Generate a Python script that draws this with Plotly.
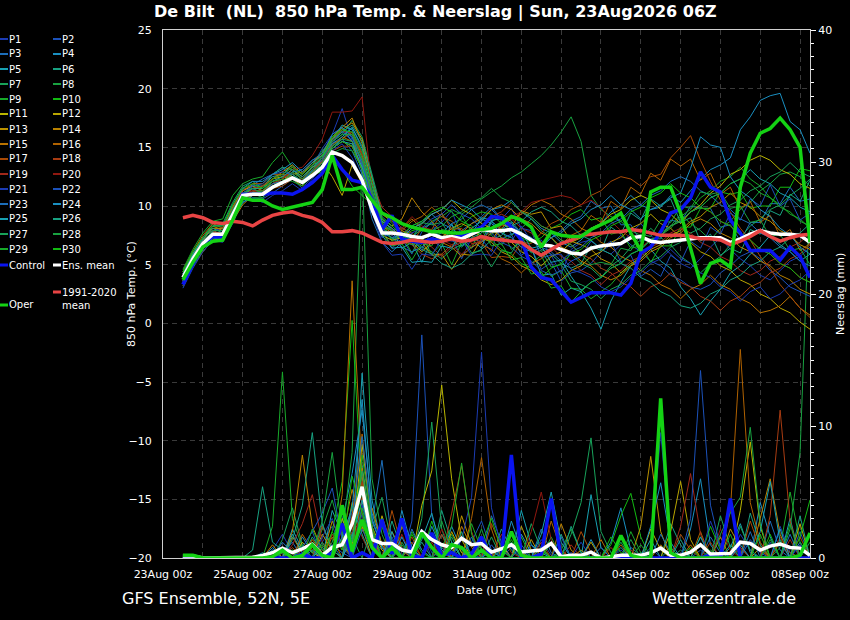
import pandas as pd
import plotly.graph_objects as go

# GFS ensemble, De Bilt: 6-hourly steps from 23Aug 12z to 08Sep 06z
times = pd.date_range("2026-08-23 12:00", periods=64, freq="6h")

member_names = ["P%d" % i for i in range(1, 31)]
base_colors = ["#1c3cb4", "#1c52ba", "#1c6eba", "#1a90c2", "#18a2b2",
               "#18a282", "#18a25a", "#18a240", "#18aa2a", "#12ba12",
               "#bab600", "#baa600", "#ba9200", "#ba8200", "#b87200",
               "#b06200", "#a84a06", "#a83c12", "#a0281a", "#901810"]
member_colors = base_colors + base_colors[:10]

# 850 hPa temperature (degC)
ens_mean = [3.9, 5.5, 6.8, 7.6, 7.6, 9.2, 10.9, 11.0,
            11.0, 11.6, 12.0, 12.4, 12.0, 12.6, 13.3, 14.6,
            14.3, 13.7, 12.2, 9.7, 7.7, 7.7, 7.6, 7.4,
            7.3, 7.6, 7.3, 7.4, 7.2, 7.6, 8.0, 7.9,
            7.9, 8.0, 7.6, 7.1, 6.7, 6.6, 6.3, 6.0,
            5.9, 6.4, 6.6, 6.7, 6.8, 7.3, 7.4, 7.0,
            6.9, 7.0, 7.1, 7.2, 7.3, 7.3, 7.3, 6.9,
            7.2, 7.6, 7.9, 7.7, 7.6, 7.6, 7.5, 6.9]
clim_mean = [9.0, 9.2, 9.0, 8.6, 8.5, 8.7, 8.6, 8.3,
             8.8, 9.2, 9.4, 9.5, 9.2, 9.0, 8.6, 7.8,
             7.8, 7.9, 7.7, 7.3, 6.9, 6.8, 6.9, 7.1,
             7.0, 6.9, 7.0, 7.2, 7.0, 7.1, 7.4, 7.2,
             7.1, 7.0, 6.9, 6.3, 5.8, 6.3, 6.8, 7.1,
             7.5, 7.6, 7.7, 7.8, 7.8, 8.0, 7.9, 7.7,
             7.5, 7.5, 7.5, 7.4, 7.2, 7.2, 7.1, 6.7,
             7.0, 7.4, 7.9, 7.4, 7.0, 7.3, 7.5, 7.6]
control = [3.3, 5.0, 6.8, 7.4, 7.3, 9.0, 11.0, 11.0,
           11.0, 11.1, 11.1, 11.0, 11.4, 12.0, 12.8, 14.3,
           13.1, 12.2, 12.0, 10.6, 8.0, 9.2, 7.2, 7.0,
           6.9, 7.2, 7.0, 7.3, 7.5, 7.8, 8.2, 9.1,
           9.0, 8.2, 7.1, 4.8, 3.9, 3.7, 2.8, 1.8,
           2.2, 2.6, 2.6, 2.6, 2.4, 3.4, 6.0, 6.5,
           7.8, 9.4, 9.7, 10.7, 12.9, 11.6, 11.2, 8.8,
           7.7, 6.2, 6.2, 6.2, 5.4, 6.5, 5.7, 3.9]
oper = [3.7, 5.2, 6.5, 7.0, 7.1, 8.8, 10.7, 10.5,
        10.5, 10.0, 9.7, 9.9, 10.1, 10.3, 11.4, 14.3,
        11.4, 11.4, 11.6, 10.5, 9.4, 9.0, 8.5, 8.2,
        8.0, 7.8, 7.8, 7.7, 7.7, 7.9, 8.0, 8.1,
        8.5, 9.1, 8.8, 8.2, 6.5, 7.8, 7.5, 7.4,
        7.4, 8.0, 8.4, 8.8, 9.4, 7.7, 6.2, 11.2,
        11.6, 11.6, 9.4, 6.3, 3.4, 5.1, 5.4, 4.8,
        11.6, 14.5, 16.2, 16.6, 17.5, 16.5, 15.0, 6.9]

# one row per perturbed member, P1 .. P30
member_t850 = [
    [3.5, 5.1, 6.5, 7.9, 8.1, 9.7, 11.5, 11.4, 11.2, 12.1, 12.5, 13.1, 12.3, 13.4, 14.9, 16.1,
     18.3, 15.7, 12.9, 9.5, 7.3, 7.9, 8.2, 7.5, 6.2, 7.9, 8.6, 9.6, 7.4, 6.4, 7.2, 6.1,
     8.9, 9.8, 8.1, 7.9, 5.6, 5.8, 4.2, 6.3, 6.9, 7.1, 6.3, 5.9, 6.7, 7.7, 8.5, 7.5,
     6.7, 5.9, 5.1, 4.7, 5.5, 6.5, 7.3, 6.3, 5.5, 4.9, 4.1, 3.7, 4.5, 5.3, 5.7, 6.5],
    [3.0, 4.7, 6.1, 7.1, 7.0, 8.5, 10.5, 10.7, 10.6, 11.1, 11.7, 12.3, 11.5, 12.5, 13.5, 15.3,
     16.4, 15.5, 13.9, 10.3, 8.1, 6.4, 7.2, 5.9, 7.8, 8.6, 6.8, 7.4, 5.5, 7.3, 6.9, 8.8,
     7.2, 7.6, 5.8, 6.4, 4.6, 5.2, 3.6, 4.3, 4.5, 5.1, 6.1, 6.7, 7.5, 6.7, 6.1, 5.3,
     4.9, 4.1, 3.7, 3.1, 2.9, 3.3, 4.3, 4.9, 5.7, 6.1, 5.5, 4.5, 3.9, 3.1, 2.7, 2.3],
    [4.2, 5.9, 7.1, 8.3, 8.4, 9.5, 11.3, 11.8, 12.3, 12.7, 13.3, 12.5, 12.1, 13.0, 14.3, 14.9,
     15.7, 14.7, 12.7, 8.9, 6.9, 6.1, 6.9, 7.3, 8.1, 8.5, 9.3, 8.3, 7.9, 8.5, 9.1, 9.9,
     8.9, 8.3, 7.7, 7.3, 6.5, 7.3, 7.9, 8.7, 9.1, 10.4, 9.8, 10.0, 8.4, 8.4, 7.0, 7.2,
     7.2, 8.8, 8.6, 10.0, 9.8, 9.8, 8.2, 8.4, 7.0, 8.6, 8.6, 10.2, 10.2, 11.6, 10.4, 10.6],
    [3.6, 5.3, 6.7, 7.5, 7.7, 9.1, 10.5, 11.3, 11.3, 11.9, 12.3, 12.9, 13.1, 13.9, 14.3, 16.1,
     16.7, 15.5, 13.1, 10.1, 7.7, 7.3, 7.5, 8.3, 8.7, 9.3, 8.5, 8.1, 7.3, 8.1, 8.7, 9.7,
     9.9, 10.5, 9.5, 8.9, 8.1, 7.7, 6.9, 6.5, 7.1, 8.1, 8.5, 9.5, 10.1, 10.9, 10.1, 9.7,
     9.9, 10.9, 10.3, 11.3, 12.3, 13.1, 13.5, 14.1, 16.5, 17.6, 19.0, 19.4, 19.6, 17.2, 16.5, 14.5],
    [4.0, 5.7, 6.9, 7.9, 7.5, 9.5, 10.9, 11.7, 11.7, 12.5, 12.7, 13.5, 12.7, 13.5, 13.9, 15.7,
     16.9, 16.5, 14.5, 11.5, 8.3, 7.9, 6.4, 6.9, 5.2, 7.1, 6.5, 8.5, 6.6, 7.2, 6.4, 8.7,
     8.0, 8.6, 6.8, 6.5, 4.1, 4.2, 2.4, 3.0, 2.7, 1.3, -0.5, 1.9, 3.5, 4.9, 5.5, 6.3,
     5.3, 4.7, 3.1, 2.1, 0.7, 1.9, 2.9, 4.3, 4.9, 5.9, 6.5, 7.5, 6.7, 6.1, 5.3, 5.9],
    [3.8, 5.5, 6.7, 7.7, 7.3, 9.1, 10.7, 11.3, 10.9, 11.5, 11.9, 12.7, 12.1, 12.9, 13.5, 15.1,
     15.7, 16.7, 15.1, 12.1, 8.9, 7.9, 7.1, 6.9, 7.1, 7.9, 7.3, 7.1, 6.5, 7.3, 7.7, 8.7,
     9.1, 8.7, 7.7, 7.1, 6.3, 5.9, 5.1, 4.7, 5.1, 6.6, 6.2, 8.2, 7.6, 9.4, 8.8, 10.6,
     10.0, 10.6, 8.6, 9.0, 7.0, 7.6, 5.8, 6.4, 6.0, 8.0, 7.6, 9.6, 9.2, 11.0, 10.4, 12.2],
    [4.4, 6.1, 7.3, 8.5, 8.5, 10.3, 11.7, 12.1, 11.5, 12.7, 13.3, 13.1, 12.3, 13.3, 13.9, 15.5,
     16.1, 17.3, 15.9, 12.7, 9.5, 8.5, 7.7, 7.3, 6.5, 6.1, 5.5, 6.3, 6.7, 7.5, 7.9, 7.5,
     6.7, 7.5, 8.1, 8.9, 7.9, 7.3, 6.3, 5.9, 5.1, 4.7, 3.9, 4.9, 5.5, 6.5, 7.1, 8.1,
     7.3, 6.7, 5.7, 5.1, 4.3, 5.1, 5.7, 6.7, 7.3, 8.3, 8.9, 9.7, 10.1, 10.9, 11.5, 12.3],
    [3.4, 5.1, 6.3, 7.3, 7.1, 8.9, 10.3, 10.7, 10.7, 11.7, 12.1, 12.7, 11.9, 12.5, 13.1, 14.5,
     14.9, 14.7, 13.3, 10.9, 8.1, 7.3, 6.7, 7.5, 7.9, 8.7, 9.1, 9.7, 9.3, 9.9, 10.6, 11.2,
     11.7, 12.4, 12.9, 13.6, 14.3, 15.2, 16.3, 17.6, 15.5, 10.9, 9.7, 9.1, 8.7, 7.9, 7.5, 6.7,
     7.7, 8.3, 9.3, 8.5, 7.9, 7.1, 8.1, 8.7, 9.7, 10.3, 11.3, 11.9, 12.7, 12.9, 12.5, 11.7],
    [4.6, 6.3, 7.7, 8.7, 8.9, 10.9, 11.9, 12.3, 12.5, 13.7, 14.6, 13.3, 12.7, 13.5, 14.7, 15.7,
     16.7, 15.9, 14.1, 10.9, 8.7, 7.0, 7.5, 6.0, 7.4, 5.9, 6.8, 5.0, 6.9, 6.4, 8.2, 7.6,
     8.1, 6.3, 7.0, 5.1, 5.8, 4.0, 4.5, 3.0, 2.9, 2.1, 2.7, 3.3, 4.3, 4.9, 5.9, 6.5,
     7.5, 8.1, 9.1, 9.7, 10.7, 11.3, 12.1, 12.5, 13.3, 12.3, 11.7, 10.7, 10.1, 9.3, 8.9, 8.1],
    [3.6, 5.3, 6.5, 7.5, 7.1, 8.9, 10.5, 11.1, 11.1, 11.7, 12.1, 12.9, 12.3, 12.7, 12.9, 14.1,
     13.1, 11.7, 10.9, 10.1, 8.3, 7.9, 7.3, 7.9, 8.1, 7.7, 7.1, 7.9, 8.3, 9.1, 9.5, 9.3,
     8.5, 8.1, 7.3, 6.9, 7.3, 8.1, 8.5, 9.3, 9.7, 8.8, 9.0, 7.6, 7.8, 6.4, 6.6, 5.2,
     6.6, 6.6, 8.2, 8.2, 9.8, 9.8, 11.2, 11.0, 11.2, 9.8, 10.0, 10.0, 11.6, 11.6, 13.2, 13.0],
    [3.8, 5.5, 6.9, 7.9, 7.5, 9.3, 10.9, 11.5, 11.7, 12.3, 12.5, 12.3, 11.7, 12.7, 13.3, 14.9,
     15.5, 15.1, 13.1, 9.9, 7.5, 7.1, 7.3, 8.1, 8.5, 9.3, 9.7, 10.5, 9.7, 9.3, 8.5, 8.1,
     7.3, 6.9, 6.1, 5.7, 4.9, 5.7, 6.1, 6.9, 7.3, 8.1, 8.5, 9.3, 9.7, 10.5, 10.9, 10.5,
     9.7, 9.3, 8.5, 9.5, 10.1, 11.1, 11.7, 12.7, 13.1, 13.9, 14.3, 13.9, 13.1, 12.7, 11.9, 11.5],
    [4.2, 5.9, 7.1, 8.1, 8.1, 9.9, 11.3, 11.7, 11.3, 11.9, 12.3, 13.1, 12.5, 13.3, 13.7, 12.5,
     10.9, 13.5, 11.9, 10.5, 8.7, 8.1, 7.3, 6.9, 6.1, 6.9, 7.3, 8.1, 8.5, 8.1, 7.3, 6.9,
     6.1, 5.7, 4.9, 4.5, 3.7, 3.3, 3.7, 4.5, 4.9, 5.7, 6.1, 6.9, 7.3, 8.1, 8.5, 9.3,
     8.5, 8.1, 7.3, 6.9, 6.1, 5.7, 4.9, 4.5, 3.7, 3.3, 2.5, 2.1, 1.3, 0.9, 0.1, -0.5],
    [3.2, 4.9, 6.1, 7.1, 7.1, 8.7, 10.1, 10.9, 11.1, 11.9, 12.1, 12.7, 12.9, 13.7, 14.3, 15.7,
     16.5, 17.1, 15.7, 12.3, 9.3, 8.7, 7.9, 7.5, 6.9, 5.8, 5.9, 4.6, 5.9, 5.8, 7.2, 7.0,
     8.4, 8.2, 9.6, 9.3, 9.5, 8.1, 8.3, 7.0, 6.7, 6.3, 5.5, 5.1, 4.3, 5.1, 5.5, 6.3,
     6.7, 7.5, 7.9, 8.7, 9.1, 9.9, 10.3, 11.1, 10.3, 9.9, 9.1, 8.7, 7.9, 7.5, 6.7, 6.3],
    [4.0, 5.7, 7.1, 8.3, 7.9, 9.7, 11.1, 11.5, 11.5, 12.3, 12.9, 13.5, 12.7, 13.7, 14.5, 15.9,
     16.7, 17.5, 15.3, 11.9, 8.9, 8.3, 8.9, 10.7, 9.5, 8.7, 7.7, 7.3, 7.7, 8.5, 8.9, 9.7,
     10.1, 9.7, 8.9, 8.5, 7.7, 7.3, 6.5, 6.1, 5.3, 4.9, 4.1, 3.7, 4.1, 4.9, 5.3, 6.1,
     6.5, 7.3, 7.7, 8.5, 8.9, 8.5, 7.7, 7.3, 6.5, 6.1, 5.3, 4.9, 4.1, 3.7, 2.9, 2.5],
    [3.6, 5.3, 6.7, 7.7, 7.7, 9.5, 10.9, 11.3, 10.9, 11.7, 11.9, 12.5, 11.9, 12.9, 13.7, 15.1,
     15.9, 15.5, 13.7, 10.7, 8.3, 7.7, 8.1, 8.9, 8.1, 7.7, 6.9, 6.5, 5.7, 6.5, 6.9, 7.7,
     8.1, 8.9, 9.3, 10.1, 10.5, 10.1, 9.3, 8.9, 8.1, 7.7, 6.9, 6.5, 5.7, 5.3, 4.5, 4.1,
     3.3, 2.9, 2.1, 2.9, 3.3, 4.1, 3.3, 2.9, 2.1, 1.7, 0.9, 1.1, 1.5, 2.3, 1.3, 0.7],
    [4.4, 6.1, 7.5, 8.5, 8.1, 9.9, 11.3, 11.9, 11.9, 12.7, 12.7, 12.5, 11.9, 12.9, 13.9, 15.3,
     15.7, 16.3, 14.3, 10.9, 7.9, 7.5, 7.9, 8.7, 9.1, 9.9, 9.1, 8.7, 7.9, 7.5, 6.7, 6.3,
     5.5, 5.1, 4.3, 5.1, 5.5, 6.3, 6.7, 7.5, 7.9, 9.2, 8.6, 10.4, 9.8, 11.6, 11.0, 12.8,
     12.2, 14.0, 13.4, 14.0, 12.2, 12.8, 11.0, 11.6, 9.8, 10.4, 8.6, 9.2, 7.4, 8.0, 6.2, 6.8],
    [3.4, 5.1, 6.3, 7.3, 7.3, 9.1, 10.5, 10.9, 10.9, 11.5, 11.7, 12.3, 12.3, 13.1, 13.7, 14.7,
     15.1, 15.1, 13.5, 10.3, 7.7, 6.6, 6.9, 6.8, 8.1, 8.0, 9.4, 8.0, 8.1, 6.8, 6.9, 5.6,
     5.7, 5.6, 6.9, 6.8, 7.7, 8.5, 8.9, 9.7, 10.1, 10.9, 11.3, 12.1, 12.5, 12.3, 11.7, 12.5,
     12.7, 14.1, 15.0, 16.0, 13.9, 12.1, 10.5, 9.5, 8.1, 7.1, 5.7, 4.7, 3.3, 2.3, 1.3, 0.5],
    [3.8, 5.5, 6.7, 7.7, 7.7, 9.5, 10.9, 11.3, 11.3, 12.1, 12.3, 12.9, 12.3, 13.1, 13.9, 15.5,
     16.5, 16.1, 14.1, 11.3, 8.5, 7.9, 7.1, 6.7, 5.9, 5.5, 5.9, 6.7, 7.1, 7.9, 8.3, 9.1,
     9.5, 10.3, 9.5, 9.1, 8.3, 7.9, 7.1, 6.7, 5.9, 5.5, 4.7, 4.3, 3.5, 3.1, 2.3, 3.1,
     3.5, 4.3, 3.5, 3.1, 2.3, 1.9, 1.1, 1.9, 2.3, 3.1, 3.5, 4.3, 4.7, 5.5, 5.9, 6.7],
    [4.0, 5.7, 6.9, 7.9, 7.5, 9.3, 10.7, 11.5, 11.7, 12.3, 12.7, 13.3, 12.7, 13.5, 14.1, 15.7,
     16.3, 16.3, 14.5, 12.1, 9.9, 9.1, 8.1, 7.7, 6.9, 6.5, 5.7, 6.5, 6.9, 7.7, 8.1, 8.9,
     9.3, 8.9, 8.1, 7.7, 6.9, 6.5, 5.7, 5.3, 4.5, 4.1, 3.3, 4.1, 4.5, 5.3, 5.7, 6.5,
     6.9, 7.7, 8.1, 7.7, 6.9, 6.5, 5.7, 5.3, 4.5, 4.1, 4.5, 5.3, 5.7, 6.5, 6.9, 7.7],
    [3.6, 5.3, 6.5, 7.5, 7.5, 9.5, 10.9, 11.3, 11.1, 11.9, 12.3, 13.1, 13.3, 14.3, 15.7, 18.0,
     18.0, 18.1, 19.3, 11.1, 8.1, 7.5, 8.1, 9.1, 8.3, 7.9, 7.1, 6.7, 5.9, 6.7, 7.1, 7.9,
     8.3, 9.1, 9.5, 10.3, 10.5, 10.7, 10.9, 10.7, 10.1, 10.5, 9.9, 8.7, 7.9, 7.3, 6.5, 7.1,
     7.5, 8.3, 8.7, 9.5, 9.9, 9.5, 8.7, 8.3, 7.5, 7.1, 6.3, 5.9, 5.1, 4.7, 3.9, 3.5],
    [3.2, 4.9, 6.1, 7.1, 6.9, 8.7, 10.3, 10.7, 10.3, 10.9, 11.3, 11.9, 11.3, 12.3, 13.3, 14.7,
     15.3, 14.1, 12.3, 9.5, 6.9, 5.8, 5.9, 4.6, 5.9, 5.8, 7.2, 7.0, 7.1, 5.8, 5.9, 5.8,
     7.1, 7.0, 8.3, 7.0, 7.1, 5.8, 5.9, 4.6, 4.3, 3.9, 3.1, 2.7, 3.1, 3.9, 4.3, 5.1,
     5.5, 6.3, 5.5, 5.1, 4.3, 3.9, 3.1, 2.7, 1.9, 2.7, 3.1, 2.1, 2.5, 3.3, 3.7, 4.5],
    [4.0, 5.7, 6.9, 7.9, 7.9, 9.7, 11.1, 11.7, 11.9, 12.7, 12.9, 12.7, 12.1, 13.1, 13.9, 15.5,
     16.3, 15.9, 13.7, 10.7, 8.1, 7.5, 6.9, 7.7, 8.1, 8.9, 9.3, 10.1, 9.3, 8.9, 8.1, 7.7,
     6.9, 6.5, 5.7, 5.3, 4.5, 4.1, 4.5, 5.3, 5.7, 7.0, 6.4, 7.0, 5.2, 5.8, 4.0, 4.6,
     4.0, 5.8, 5.2, 7.0, 6.4, 8.2, 7.6, 9.4, 8.8, 10.6, 10.0, 11.8, 10.0, 10.6, 8.8, 9.4],
    [3.8, 5.5, 6.7, 7.7, 7.3, 9.1, 10.7, 11.1, 11.1, 11.9, 12.1, 12.9, 13.1, 13.9, 14.5, 16.1,
     16.7, 15.9, 13.5, 10.5, 7.9, 7.3, 6.5, 6.1, 6.5, 7.3, 7.7, 8.5, 8.9, 9.7, 10.1, 9.7,
     8.9, 8.5, 7.7, 7.3, 6.5, 6.1, 5.3, 6.1, 6.5, 7.3, 7.7, 8.5, 8.9, 9.7, 10.1, 10.9,
     11.3, 12.1, 12.5, 12.1, 11.3, 10.9, 10.1, 9.7, 8.9, 8.5, 7.7, 7.3, 6.5, 6.1, 5.3, 4.9],
    [4.2, 5.9, 7.3, 8.3, 8.3, 10.1, 11.5, 12.1, 12.1, 12.7, 13.1, 13.7, 12.9, 13.7, 14.3, 15.3,
     15.9, 16.7, 14.9, 11.7, 8.7, 8.1, 7.3, 8.1, 8.5, 9.3, 9.7, 10.5, 10.1, 9.7, 8.9, 8.5,
     7.7, 7.3, 6.5, 6.1, 6.5, 7.3, 7.7, 8.5, 8.9, 9.7, 10.1, 10.9, 10.1, 9.7, 8.9, 9.7,
     10.1, 10.7, 11.1, 13.2, 15.9, 15.2, 15.0, 12.5, 11.3, 10.7, 9.7, 9.1, 8.1, 7.5, 6.5, 5.9],
    [3.4, 5.1, 6.3, 7.3, 7.1, 8.9, 10.3, 10.9, 10.9, 11.7, 11.9, 12.5, 11.9, 12.7, 13.5, 14.9,
     15.5, 15.3, 13.3, 10.1, 7.5, 6.4, 6.5, 5.2, 5.3, 5.2, 6.6, 6.4, 7.8, 7.6, 9.0, 8.8,
     8.9, 7.6, 7.8, 6.4, 6.6, 5.2, 5.4, 4.0, 2.8, 3.5, 3.9, 4.7, 5.1, 5.9, 6.3, 7.1,
     7.5, 8.3, 8.7, 9.5, 9.9, 10.7, 11.1, 11.9, 12.3, 13.1, 12.3, 11.9, 11.1, 10.7, 9.9, 9.5],
    [4.2, 5.9, 7.1, 8.1, 7.7, 9.5, 10.9, 11.5, 11.5, 12.1, 12.5, 13.1, 12.5, 13.3, 14.1, 15.7,
     16.3, 16.9, 15.5, 12.5, 9.1, 8.3, 7.5, 7.1, 6.3, 5.9, 5.1, 4.7, 5.1, 5.9, 6.3, 7.1,
     7.5, 8.3, 8.7, 9.5, 9.9, 9.5, 8.7, 8.3, 7.5, 7.1, 6.3, 5.9, 5.1, 4.7, 3.9, 3.5,
     2.7, 2.3, 1.5, 1.3, 1.7, 2.5, 2.9, 3.7, 4.1, 4.9, 5.3, 6.1, 6.5, 7.3, 7.7, 8.5],
    [3.6, 5.3, 6.5, 7.5, 7.5, 9.3, 10.7, 11.1, 10.7, 11.5, 11.9, 12.7, 12.1, 12.9, 13.7, 15.1,
     15.7, 15.5, 13.9, 11.1, 8.3, 7.2, 7.4, 7.2, 8.6, 8.4, 8.6, 7.2, 7.4, 6.0, 6.2, 4.8,
     6.2, 6.0, 7.4, 6.0, 6.2, 4.8, 5.0, 3.6, 3.3, 2.9, 2.1, 2.9, 3.3, 4.1, 4.5, 5.3,
     5.7, 6.5, 6.9, 7.7, 8.1, 8.9, 9.3, 10.1, 10.5, 11.3, 11.7, 12.5, 12.9, 13.7, 12.9, 12.5],
    [4.0, 5.7, 6.9, 7.9, 7.9, 9.7, 11.1, 11.5, 11.1, 11.7, 12.1, 12.9, 12.3, 13.1, 14.1, 15.5,
     16.1, 16.1, 14.1, 11.3, 8.5, 7.9, 7.1, 6.7, 7.1, 7.9, 8.3, 9.1, 9.5, 10.3, 10.7, 11.5,
     10.7, 10.3, 9.5, 9.1, 8.3, 7.9, 7.1, 6.7, 5.9, 5.0, 5.2, 5.0, 6.4, 6.2, 7.6, 7.4,
     8.8, 8.6, 10.0, 9.8, 11.2, 11.0, 11.2, 9.8, 10.0, 8.6, 8.8, 7.4, 7.6, 6.2, 6.4, 5.0],
    [3.8, 5.5, 6.7, 7.7, 7.3, 9.1, 10.5, 11.1, 11.3, 12.1, 12.3, 12.1, 11.7, 12.7, 13.5, 14.9,
     15.5, 15.1, 13.1, 10.3, 7.7, 6.6, 6.8, 5.4, 6.8, 6.6, 8.0, 7.8, 9.2, 7.8, 8.0, 6.6,
     6.8, 5.4, 5.6, 4.2, 4.4, 3.0, 3.2, 1.8, 2.7, 3.5, 3.9, 4.7, 5.1, 5.9, 6.3, 7.1,
     7.5, 8.3, 8.7, 9.5, 9.9, 10.7, 11.1, 11.9, 12.3, 11.9, 11.1, 10.7, 9.9, 9.5, 8.7, 8.3],
    [4.4, 6.1, 7.3, 8.3, 8.3, 10.1, 11.5, 11.9, 11.5, 12.3, 12.7, 13.3, 12.7, 13.5, 14.3, 15.9,
     16.5, 16.3, 14.7, 11.9, 8.9, 8.3, 7.5, 8.3, 8.7, 9.5, 9.9, 9.5, 8.7, 8.3, 7.5, 7.1,
     6.3, 5.9, 5.1, 4.7, 3.9, 4.7, 5.1, 5.9, 6.3, 7.1, 7.5, 8.3, 8.7, 9.5, 9.9, 10.7,
     11.1, 11.9, 11.1, 10.7, 9.9, 9.5, 8.7, 8.3, 7.5, 7.1, 6.3, 5.9, 5.1, 4.7, 3.9, 3.5],
]

# 6-hourly precipitation (mm)
rain_mean = [0.15, 0.15, 0, 0, 0, 0, 0, 0.05,
             0.2, 0.4, 0.75, 0.4, 0.7, 1.05, 0.2, 0.8,
             1.0, 2.6, 5.4, 1.4, 1.1, 1.1, 0.6, 0.45,
             2.0, 1.4, 1.0, 0.8, 1.5, 1.0, 1.1, 0.45,
             0.7, 1.0, 0.45, 0.5, 0.6, 1.1, 0.1, 0.2,
             0.2, 0.45, 0, 0.1, 0.2, 0.2, 0.2, 0.4,
             0.75, 0.2, 0.2, 0.45, 1.0, 0.3, 0.35, 0.35,
             1.2, 1.1, 0.6, 0.9, 1.05, 0.8, 0.75, 0.2]
rain_control = [0, 0, 0, 0, 0, 0, 0, 0,
                0, 0, 0, 0, 0.3, 0, 0, 0.4,
                2.6, 0, 0.4, 0, 2.9, 0.3, 3.0, 0.2,
                0, 1.9, 0.2, 0.4, 0, 0.3, 1.6, 0,
                0, 7.8, 0, 0, 0.3, 4.5, 0, 0,
                0, 0, 0, 0, 0, 0, 0, 0,
                0, 0, 0, 0, 0, 0.2, 0, 4.5,
                0, 0, 0, 0, 0, 0, 0, 0]
rain_oper = [0.2, 0.2, 0, 0, 0, 0, 0, 0,
             0, 0.1, 0.6, 0, 0.2, 1.0, 0.2, 0,
             4.0, 0.5, 2.9, 0.8, 0, 0.8, 0, 0,
             1.9, 0.8, 0, 1.0, 0.8, 0, 0.6, 0,
             0, 2.0, 0.2, 0, 0, 0, 0, 0,
             0, 0, 0, 0, 1.7, 0.2, 0, 0,
             12.1, 0.4, 0, 0, 0, 0, 0, 0,
             0, 0, 0, 0, 0, 0, 0.2, 1.9]

# member rain, {step: mm}; steps not listed are dry
member_rain = [
    {9: 0.6, 10: 1.8, 11: 0.4, 14: 1.2, 15: 2.4, 16: 0.8, 17: 3.6, 18: 6.2, 19: 1.4, 20: 0.6, 23: 1.0,
     24: 2.2, 25: 0.4, 28: 1.6, 29: 0.3, 33: 0.8, 36: 1.4, 37: 0.2, 44: 0.6, 47: 0.4, 48: 9.5, 49: 0.8,
     53: 0.4, 56: 1.8, 57: 0.6, 60: 2.4, 61: 0.4},
    {12: 0.8, 13: 2.0, 15: 1.0, 16: 0.4, 18: 3.4, 19: 0.8, 21: 1.6, 23: 2.8, 24: 16.9, 25: 3.2, 26: 0.8,
     29: 1.2, 30: 2.8, 31: 0.6, 35: 1.0, 39: 0.4, 52: 0.6, 57: 1.4, 58: 0.4, 62: 2.0},
    {10: 0.4, 11: 1.2, 14: 2.6, 15: 0.6, 17: 1.8, 18: 4.2, 19: 2.6, 20: 7.4, 21: 1.2, 26: 1.8, 27: 0.4,
     31: 3.2, 32: 1.2, 36: 2.2, 37: 0.4, 45: 0.8, 46: 0.2, 53: 1.6, 54: 0.4, 59: 2.8, 60: 0.6},
    {9: 0.8, 12: 1.6, 13: 0.4, 16: 2.8, 17: 6.4, 18: 11.2, 19: 3.4, 20: 1.0, 22: 3.6, 23: 0.8, 27: 2.4,
     28: 0.6, 34: 1.8, 35: 0.4, 43: 1.2, 44: 3.8, 45: 0.6, 51: 2.2, 52: 6.0, 53: 1.0, 58: 4.2, 59: 1.6,
     62: 1.2},
    {8: 0.4, 11: 2.2, 12: 0.6, 15: 3.6, 16: 1.8, 18: 14.0, 19: 4.4, 20: 0.8, 24: 1.4, 25: 3.4, 26: 0.6,
     30: 1.2, 34: 3.6, 35: 1.0, 36: 0.4, 41: 4.8, 42: 0.8, 47: 1.4, 55: 0.8, 56: 2.6, 57: 0.4, 61: 3.0},
    {7: 0.6, 8: 5.4, 9: 1.2, 10: 0.6, 13: 1.6, 14: 0.4, 17: 2.4, 18: 7.0, 19: 2.0, 21: 2.8, 22: 0.6,
     26: 3.6, 27: 1.2, 32: 2.2, 33: 0.6, 38: 1.8, 46: 0.4, 49: 2.6, 50: 1.0, 57: 3.4, 58: 1.0},
    {10: 1.4, 11: 3.8, 12: 1.0, 15: 1.2, 16: 4.0, 17: 1.6, 19: 2.2, 20: 4.6, 21: 1.0, 24: 3.0, 25: 10.3,
     26: 2.2, 28: 0.8, 31: 1.6, 35: 2.6, 36: 0.6, 44: 1.2, 50: 0.6, 54: 3.2, 55: 0.8, 60: 1.4},
    {11: 0.6, 14: 2.2, 15: 4.4, 16: 1.6, 17: 8.0, 18: 30.0, 19: 6.0, 20: 1.8, 22: 1.2, 27: 1.8, 28: 0.4,
     38: 0.6, 39: 2.2, 40: 0.4, 52: 1.6, 53: 0.4, 61: 2.2, 62: 8.0, 63: 28.0},
    {9: 2.4, 10: 14.1, 11: 3.0, 12: 0.8, 14: 1.0, 16: 2.6, 17: 0.8, 18: 5.6, 19: 1.8, 23: 2.0, 24: 0.6,
     29: 2.6, 30: 0.6, 37: 1.6, 45: 2.0, 46: 0.4, 55: 1.8, 60: 0.8, 61: 5.0, 62: 1.2},
    {13: 0.8, 15: 2.0, 16: 5.8, 17: 18.0, 18: 4.6, 19: 1.4, 21: 0.8, 25: 2.8, 26: 0.6, 33: 1.4, 43: 1.0,
     44: 3.2, 45: 4.9, 46: 1.6, 53: 2.4, 54: 0.6, 59: 1.8},
    {12: 1.2, 13: 0.4, 16: 3.0, 17: 1.0, 18: 8.6, 19: 2.4, 20: 0.6, 24: 4.0, 25: 6.6, 26: 13.1, 27: 6.0,
     28: 1.4, 32: 1.0, 36: 0.8, 47: 2.2, 48: 0.6, 56: 3.6, 57: 8.8, 58: 2.4},
    {10: 0.8, 14: 1.8, 15: 0.6, 17: 4.2, 18: 2.4, 20: 3.2, 21: 0.8, 27: 2.0, 28: 0.4, 34: 2.4, 35: 0.6,
     41: 1.2, 49: 2.0, 50: 5.8, 51: 1.4, 58: 0.8, 62: 2.6},
    {11: 1.6, 12: 0.4, 15: 2.8, 16: 1.0, 18: 6.8, 19: 1.6, 22: 2.4, 23: 0.6, 28: 3.2, 29: 1.0, 35: 1.4,
     40: 0.6, 46: 2.4, 47: 7.7, 48: 2.0, 55: 2.2, 56: 0.8},
    {9: 1.0, 11: 2.0, 12: 7.8, 13: 2.4, 14: 0.6, 16: 1.4, 17: 5.2, 18: 2.0, 19: 3.8, 20: 1.0, 25: 1.8,
     26: 0.4, 30: 1.4, 38: 2.6, 39: 0.6, 48: 1.0, 54: 1.6, 58: 3.0, 59: 6.0, 60: 1.8},
    {13: 1.4, 14: 0.4, 16: 4.8, 17: 21.0, 18: 6.2, 19: 1.2, 21: 2.0, 22: 0.6, 28: 2.4, 29: 0.8, 33: 1.8,
     34: 0.4, 42: 1.4, 51: 1.0, 60: 1.2, 61: 0.4},
    {10: 0.6, 12: 1.8, 13: 0.6, 15: 1.6, 17: 3.2, 18: 9.4, 19: 2.2, 23: 1.2, 29: 3.0, 30: 7.6, 31: 2.2,
     37: 2.8, 38: 0.6, 44: 1.0, 52: 2.0, 55: 3.6, 56: 15.8, 57: 4.2, 58: 1.2},
    {11: 0.8, 14: 2.4, 15: 0.8, 16: 1.2, 18: 4.6, 19: 1.0, 21: 3.6, 22: 0.8, 26: 1.8, 31: 2.6, 32: 0.8,
     40: 2.0, 41: 0.4, 50: 1.8, 51: 0.6, 57: 2.8, 58: 0.6, 62: 1.6},
    {12: 0.6, 15: 1.8, 16: 0.6, 17: 2.0, 18: 5.8, 19: 1.4, 23: 1.6, 27: 3.4, 28: 7.0, 29: 2.0, 36: 1.2,
     43: 0.8, 53: 1.2, 59: 3.2, 60: 11.2, 61: 2.8},
    {11: 1.0, 12: 2.6, 13: 4.8, 14: 1.2, 17: 3.0, 18: 1.6, 20: 2.6, 21: 0.6, 25: 1.2, 32: 1.8, 33: 0.4,
     39: 1.0, 50: 2.4, 51: 6.4, 52: 1.8, 56: 0.8, 61: 1.4},
    {10: 0.4, 13: 1.0, 16: 2.2, 17: 0.8, 18: 3.6, 19: 1.0, 22: 1.8, 26: 2.2, 27: 0.6, 30: 1.0, 35: 2.0,
     36: 5.0, 37: 1.4, 45: 0.6, 54: 2.2, 55: 0.6, 60: 1.6},
    {9: 0.4, 14: 1.6, 15: 3.0, 16: 0.8, 18: 4.0, 19: 1.2, 22: 0.8, 24: 2.0, 28: 1.4, 29: 4.6, 30: 15.6,
     31: 3.8, 32: 0.8, 40: 1.2, 47: 0.8, 53: 2.8, 54: 0.8, 62: 1.0},
    {12: 0.8, 13: 2.0, 14: 3.4, 15: 5.3, 16: 1.4, 18: 2.2, 19: 0.6, 21: 1.4, 26: 0.8, 31: 1.0, 38: 1.6,
     51: 3.0, 52: 14.2, 53: 4.0, 54: 0.8, 59: 1.2},
    {10: 1.2, 11: 0.4, 15: 1.0, 17: 2.6, 18: 9.2, 19: 2.8, 20: 0.8, 23: 2.2, 24: 0.6, 29: 1.6, 34: 1.0,
     42: 0.8, 48: 1.8, 49: 0.4, 57: 2.0, 61: 1.8},
    {13: 0.6, 16: 1.6, 17: 3.8, 18: 12.0, 19: 3.0, 20: 0.8, 22: 1.6, 25: 2.4, 26: 0.6, 33: 2.8, 34: 0.6,
     41: 1.4, 47: 2.4, 48: 5.7, 49: 1.2, 56: 1.0, 60: 2.2},
    {11: 1.8, 12: 0.4, 14: 0.8, 17: 1.6, 18: 4.4, 19: 0.8, 21: 2.0, 27: 1.2, 31: 0.6, 36: 1.8, 37: 5.0,
     38: 1.2, 44: 0.8, 52: 1.6, 58: 2.0, 59: 5.8, 60: 1.2},
    {9: 0.6, 11: 1.4, 12: 4.0, 13: 9.5, 14: 2.6, 15: 0.6, 17: 4.0, 18: 1.8, 20: 3.0, 21: 0.8, 24: 1.2,
     28: 2.0, 32: 0.6, 39: 2.4, 40: 0.4, 50: 1.4, 55: 1.0, 62: 3.2},
    {10: 0.8, 14: 1.2, 16: 3.6, 17: 1.2, 18: 6.6, 19: 2.0, 22: 2.6, 23: 0.6, 27: 1.6, 33: 1.2, 39: 1.8,
     40: 4.2, 41: 9.1, 42: 2.0, 43: 0.4, 49: 0.8, 56: 2.4, 57: 0.6},
    {12: 1.0, 13: 0.4, 14: 2.8, 15: 8.0, 16: 2.0, 18: 3.8, 19: 0.8, 22: 1.0, 26: 2.8, 27: 0.6, 30: 2.2,
     36: 0.8, 45: 1.4, 54: 1.8, 55: 3.4, 56: 4.6, 57: 9.9, 58: 2.6, 63: 1.2},
    {10: 0.4, 13: 2.2, 14: 0.6, 16: 1.4, 18: 7.8, 19: 2.4, 21: 1.2, 26: 0.8, 27: 2.4, 28: 7.2, 29: 1.8,
     34: 1.6, 38: 0.4, 46: 1.0, 53: 0.6, 59: 1.4, 61: 2.6},
    {11: 0.6, 15: 2.0, 16: 0.6, 17: 6.2, 18: 3.4, 19: 1.2, 20: 2.4, 23: 1.8, 24: 0.4, 30: 1.0, 31: 3.0,
     32: 0.6, 37: 1.2, 43: 1.6, 44: 0.4, 51: 0.8, 58: 1.8, 62: 1.6, 63: 4.4},
]

CONTROL_BLUE = "#0a14f0"
OPER_GREEN = "#14d214"
CLIM_RED = "#e84444"

fig = go.Figure()

# precipitation on the right axis (y), temperatures on the left axis (y2, drawn on top)
for name, color, wet in zip(member_names, member_colors, member_rain):
    rain = [wet.get(i, 0.0) for i in range(len(times))]
    fig.add_trace(go.Scatter(x=times, y=rain, mode="lines", yaxis="y",
                             line=dict(color=color, width=1), name=name, hoverinfo="skip"))
fig.add_trace(go.Scatter(x=times, y=rain_control, mode="lines", yaxis="y",
                         line=dict(color=CONTROL_BLUE, width=3.5), name="Control rain"))
fig.add_trace(go.Scatter(x=times, y=rain_mean, mode="lines", yaxis="y",
                         line=dict(color="white", width=3.5), name="Ens. mean rain"))
fig.add_trace(go.Scatter(x=times, y=rain_oper, mode="lines", yaxis="y",
                         line=dict(color=OPER_GREEN, width=3.5), name="Oper rain"))

for name, color, temps in zip(member_names, member_colors, member_t850):
    fig.add_trace(go.Scatter(x=times, y=temps, mode="lines", yaxis="y2",
                             line=dict(color=color, width=1), name=name, hoverinfo="skip"))
fig.add_trace(go.Scatter(x=times, y=control, mode="lines", yaxis="y2",
                         line=dict(color=CONTROL_BLUE, width=3.5), name="Control"))
fig.add_trace(go.Scatter(x=times, y=ens_mean, mode="lines", yaxis="y2",
                         line=dict(color="white", width=3.5), name="Ens. mean"))
fig.add_trace(go.Scatter(x=times, y=clim_mean, mode="lines", yaxis="y2",
                         line=dict(color=CLIM_RED, width=3.5), name="1991-2020 mean"))
fig.add_trace(go.Scatter(x=times, y=oper, mode="lines", yaxis="y2",
                         line=dict(color=OPER_GREEN, width=3.5), name="Oper"))

# plot area in pixels: x 163..810, y 30..558
def px_x(px):
    return (px - 163) / 647.0


def px_y(py):
    return (558 - py) / 528.0


# hand-built two-column legend on the left
legend_items = [(n, c, 2) for n, c in zip(member_names, member_colors)]
shapes = []
annotations = []
for k, (label, color, lw) in enumerate(legend_items):
    col, row = k % 2, k // 2
    y = 39 + 15 * row
    x0 = 0 if col == 0 else 53
    shapes.append(dict(type="line", xref="paper", yref="paper",
                       x0=px_x(x0), x1=px_x(x0 + 8), y0=px_y(y), y1=px_y(y),
                       line=dict(color=color, width=lw)))
    annotations.append(dict(text=label, xref="paper", yref="paper", x=px_x(x0 + 7), y=px_y(y),
                            xanchor="left", yanchor="middle", showarrow=False,
                            font=dict(size=10, color="white")))

extra_items = [("Control", CONTROL_BLUE, 0, 265), ("Ens. mean", "white", 53, 265),
               ("1991-2020<br>mean", CLIM_RED, 53, 292), ("Oper", OPER_GREEN, 0, 305)]
for label, color, x0, y in extra_items:
    shapes.append(dict(type="line", xref="paper", yref="paper",
                       x0=px_x(x0), x1=px_x(x0 + 8), y0=px_y(y), y1=px_y(y),
                       line=dict(color=color, width=3)))
    two_lines = "<br>" in label
    annotations.append(dict(text=label, xref="paper", yref="paper", x=px_x(x0 + 7),
                            y=px_y(y - 7) if two_lines else px_y(y),
                            xanchor="left", yanchor="top" if two_lines else "middle",
                            align="left", showarrow=False,
                            font=dict(size=10, color="white")))

annotations.append(dict(text="De Bilt \u00a0(NL) \u00a0850 hPa Temp. & Neerslag | Sun, 23Aug2026 06Z",
                        xref="paper", yref="paper", x=px_x(435), y=px_y(12),
                        xanchor="center", yanchor="middle", showarrow=False,
                        font=dict(size=16, color="white", family="DejaVu Sans, sans-serif",
                                  weight="bold")))
annotations.append(dict(text="GFS Ensemble, 52N, 5E", xref="paper", yref="paper",
                        x=px_x(120), y=px_y(598), xanchor="left", yanchor="middle",
                        showarrow=False, font=dict(size=16, color="white")))
annotations.append(dict(text="Wetterzentrale.de", xref="paper", yref="paper",
                        x=px_x(650), y=px_y(598), xanchor="left", yanchor="middle",
                        showarrow=False, font=dict(size=16, color="white")))
# axis titles
annotations.append(dict(text="850 hPa Temp. (°C)", xref="paper", yref="paper",
                        x=px_x(131), y=0.5, xanchor="center", yanchor="middle", textangle=-90,
                        showarrow=False, font=dict(size=11, color="white")))
annotations.append(dict(text="Neerslag (mm)", xref="paper", yref="paper",
                        x=px_x(840), y=0.5, xanchor="center", yanchor="middle", textangle=-90,
                        showarrow=False, font=dict(size=11, color="white")))

grid_col = "#3a3a3a"
frame_col = "#d0d0d0"
day_ms = 86400000

fig.update_layout(
    width=850, height=620,
    margin=dict(l=163, r=40, t=30, b=62),
    paper_bgcolor="black", plot_bgcolor="black",
    font=dict(family="DejaVu Sans, sans-serif", size=11, color="white"),
    showlegend=False,
    shapes=shapes, annotations=annotations,
    xaxis=dict(type="date", range=["2026-08-23 00:00", "2026-09-08 06:00"],
               tick0="2026-08-23", dtick=2 * day_ms, tickformat="%d%b %Hz",
               ticks="outside", ticklen=6, tickcolor="black",
               showgrid=True, gridcolor=grid_col, griddash="5px,4px",
               minor=dict(dtick=day_ms, showgrid=True, gridcolor=grid_col, griddash="5px,4px"),
               showline=True, linecolor=frame_col, mirror=True, zeroline=False,
               title=dict(text="Date (UTC)", standoff=6, font=dict(size=11))),
    yaxis=dict(range=[0, 40], dtick=10, side="right", showgrid=False, zeroline=False,
               ticks="outside", ticklen=5, tickcolor="white",
               minor=dict(dtick=1, ticks="outside", ticklen=3, tickcolor="white"),
               showline=True, linecolor=frame_col),
    yaxis2=dict(range=[-20, 25], dtick=5, side="left", overlaying="y",
                showgrid=True, gridcolor=grid_col, griddash="5px,4px", zeroline=False,
                ticks="outside", ticklen=8, tickcolor="black",
                showline=True, linecolor=frame_col),
)

fig.write_html("out.html", config={"displayModeBar": False},
               post_script="document.body.style.margin = '0';")
